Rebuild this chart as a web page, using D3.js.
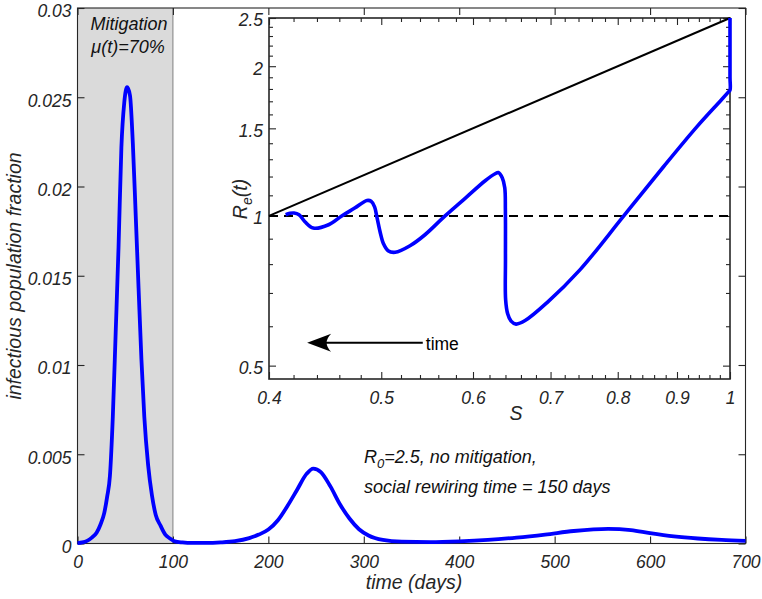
<!DOCTYPE html>
<html><head><meta charset="utf-8">
<script src="https://cdn.jsdelivr.net/npm/d3@7"></script>
<style>
body{margin:0;background:#fff;}
text{font-family:"Liberation Sans",Arial,Helvetica,sans-serif;}
</style></head>
<body><svg id="c" width="762" height="599"></svg>
<script>
// ---------- data ----------
const days = [0,5,10,15,20,24,28,31,34,37,40,43,46,49,52,55,58,61,64,67,70,74,78,82,87,92,97,102,110,120,135,150,165,180,190,200,210,220,230,240,247,255,265,275,285,295,305,320,340,370,400,430,460,490,520,556,580,600,625,650,675,700];
const infected = [0.00002,0.00006,0.00015,0.00033,0.0006,0.00105,0.0017,0.0026,0.0038,0.0071,0.0118,0.0166,0.0222,0.0247,0.02556,0.0251,0.0224,0.0184,0.0143,0.0103,0.0071,0.0044,0.0027,0.0016,0.0010,0.0005,0.00028,0.00012,0.00006,0.00003,0.00003,0.00006,0.00013,0.0003,0.0005,0.00078,0.0013,0.0021,0.003,0.0039,0.0042,0.004,0.0032,0.0022,0.0014,0.0008,0.00045,0.0002,0.0001,0.00008,0.00012,0.0002,0.00033,0.0005,0.0007,0.00082,0.00075,0.00058,0.0004,0.00028,0.0002,0.00015];
const mitigationEnd = 100;
const xTicks = [0,100,200,300,400,500,600,700];
const yTicks = [0,0.005,0.01,0.015,0.02,0.025,0.03];
const yTickLabels = ["0","0.005","0.01","0.015","0.02","0.025","0.03"];

// inset: S vs R_e(t), in time order
const insetS = [1.0,1.0,1.0,1.0,0.997,0.981,0.9365,0.8765,0.809,0.7424,0.6948,0.6655,0.6536,0.6472,0.6428,0.6402,0.6400,0.6399,0.6391,0.6359,0.631,0.627,0.6147,0.5907,0.5676,0.5454,0.5294,0.514,0.5068,0.5022,0.4988,0.4958,0.4934,0.490,0.486,0.4743,0.4622,0.4503,0.4368,0.4296,0.4246,0.4204,0.417,0.4135];
const insetR = [2.5,2.2,1.9,1.79,1.7756,1.703,1.512,1.257,0.998,0.78,0.6686,0.616,0.606,0.6145,0.636,0.679,0.8165,1.029,1.139,1.193,1.2227,1.2155,1.177,1.085,1.0,0.9165,0.871,0.845,0.851,0.879,0.9295,0.9918,1.043,1.07,1.074,1.037,1.0,0.96,0.9455,0.9735,1.0055,1.0135,1.012,1.0055];
const R0 = 2.5;
const herdS = [0.4,1.0];
const insetXTicks = [0.4,0.5,0.6,0.7,0.8,0.9,1];
const insetXLabels = ["0.4","0.5","0.6","0.7","0.8","0.9","1"];
const insetYTicks = [0.5,1,1.5,2,2.5];
const insetYLabels = ["0.5","1","1.5","2","2.5"];
const arrowS = [0.543,0.4315];
const arrowR = 0.556;

// ---------- main chart ----------
const svg = d3.select("#c");
const axCol = "#262626";
const x = d3.scaleLinear().domain([0,700]).range([77.5,745.5]);
const y = d3.scaleLinear().domain([0,0.03]).range([543.5,8]);

svg.append("rect").attr("x",x(0)).attr("y",y(0.03)).attr("width",x(mitigationEnd)-x(0)).attr("height",y(0)-y(0.03))
  .attr("fill","#dadada").attr("stroke","none");
svg.append("line").attr("x1",x(mitigationEnd)).attr("x2",x(mitigationEnd)).attr("y1",y(0.03)).attr("y2",y(0))
  .attr("stroke","#808080").attr("stroke-width",1);

const fontTick = "17.5px";
function styleAxis(g,size){
  g.select(".domain").remove();
  g.selectAll(".tick line").attr("stroke",axCol).attr("stroke-width",1.1);
  g.selectAll(".tick text").attr("fill",axCol).style("font-size",size||fontTick).style("font-style","italic");
}
svg.append("g").attr("transform",`translate(0,${y(0)})`)
  .call(d3.axisBottom(x).tickValues(xTicks).tickSize(-7).tickPadding(12).tickFormat(d3.format("d"))).call(g=>styleAxis(g));
svg.append("g").attr("transform",`translate(0,${y(0.03)})`)
  .call(d3.axisTop(x).tickValues(xTicks).tickSize(-7).tickFormat("")).call(g=>styleAxis(g));
svg.append("g").attr("transform",`translate(${x(0)},0)`)
  .call(d3.axisLeft(y).tickValues(yTicks).tickSize(-7).tickPadding(6).tickFormat((d,i)=>yTickLabels[i])).call(g=>styleAxis(g))
  .call(g=>g.selectAll(".tick text").attr("dy","0.5em"));
svg.append("g").attr("transform",`translate(${x(700)},0)`)
  .call(d3.axisRight(y).tickValues(yTicks).tickSize(-7).tickFormat("")).call(g=>styleAxis(g));
svg.append("rect").attr("x",x(0)).attr("y",y(0.03)).attr("width",x(700)-x(0)).attr("height",y(0)-y(0.03))
  .attr("fill","none").attr("stroke",axCol).attr("stroke-width",1.1);

const line = d3.line().x((d,i)=>x(days[i])).y(d=>y(d)).curve(d3.curveMonotoneX);
svg.append("path").datum(infected).attr("d",line).attr("fill","none").attr("stroke","#0000ff").attr("stroke-width",3.8).attr("stroke-linejoin","round");

// texts
svg.append("text").attr("x",129).attr("y",29.5).attr("text-anchor","middle").style("font-size","18px").style("font-style","italic").attr("fill","#111").text("Mitigation");
svg.append("text").attr("x",128).attr("y",52.5).attr("text-anchor","middle").style("font-size","18px").style("font-style","italic").attr("fill","#111").text("μ(t)=70%");
svg.append("text").attr("transform","translate(21,276) rotate(-90)").attr("text-anchor","middle").style("font-size","19.5px").style("font-style","italic").attr("fill",axCol).text("infectious population fraction");
svg.append("text").attr("x",414).attr("y",589).attr("text-anchor","middle").style("font-size","19.5px").style("font-style","italic").attr("fill",axCol).text("time (days)");
const annX = 364;
const ann = svg.append("text").attr("x",annX).attr("y",463).style("font-size","18px").style("font-style","italic").attr("fill","#111");
ann.append("tspan").text("R");
ann.append("tspan").attr("dy",5).style("font-size","13px").text("0");
ann.append("tspan").attr("dy",-5).text("=2.5, no mitigation,");
svg.append("text").attr("x",annX).attr("y",493).style("font-size","18px").style("font-style","italic").attr("fill","#111").text("social rewiring time = 150 days");

// ---------- inset ----------
const xs = d3.scaleLog().domain([0.4,1]).range([269,730]);
const ys = d3.scaleLog().domain([0.47,2.5]).range([379,18]);
const ins = svg.append("g");
ins.append("rect").attr("x",xs(0.4)).attr("y",ys(2.5)).attr("width",xs(1)-xs(0.4)).attr("height",ys(0.47)-ys(2.5)).attr("fill","#fff");

const xMinor = d3.range(0.42,0.999,0.02).filter(v=>Math.abs(v*10-Math.round(v*10))>1e-6);
const yMinor = d3.range(0.6,2.45,0.1).filter(v=>Math.abs(v*2-Math.round(v*2))>1e-6);
ins.append("g").attr("transform",`translate(0,${ys(0.47)})`)
  .call(d3.axisBottom(xs).tickValues(insetXTicks).tickSize(-7).tickPadding(13).tickFormat((d,i)=>insetXLabels[i])).call(g=>styleAxis(g));
ins.append("g").attr("transform",`translate(0,${ys(0.47)})`)
  .call(d3.axisBottom(xs).tickValues(xMinor).tickSize(-4).tickFormat("")).call(g=>styleAxis(g));
ins.append("g").attr("transform",`translate(0,${ys(2.5)})`)
  .call(d3.axisTop(xs).tickValues(insetXTicks).tickSize(-7).tickFormat("")).call(g=>styleAxis(g));
ins.append("g").attr("transform",`translate(0,${ys(2.5)})`)
  .call(d3.axisTop(xs).tickValues(xMinor).tickSize(-4).tickFormat("")).call(g=>styleAxis(g));
ins.append("g").attr("transform",`translate(${xs(0.4)},0)`)
  .call(d3.axisLeft(ys).tickValues(insetYTicks).tickSize(-7).tickPadding(6).tickFormat((d,i)=>insetYLabels[i])).call(g=>styleAxis(g))
  .call(g=>g.selectAll(".tick text").attr("dy","0.45em"));
ins.append("g").attr("transform",`translate(${xs(0.4)},0)`)
  .call(d3.axisLeft(ys).tickValues(yMinor).tickSize(-4).tickFormat("")).call(g=>styleAxis(g));
ins.append("g").attr("transform",`translate(${xs(1)},0)`)
  .call(d3.axisRight(ys).tickValues(insetYTicks).tickSize(-7).tickFormat("")).call(g=>styleAxis(g));
ins.append("g").attr("transform",`translate(${xs(1)},0)`)
  .call(d3.axisRight(ys).tickValues(yMinor).tickSize(-4).tickFormat("")).call(g=>styleAxis(g));
ins.append("rect").attr("x",xs(0.4)).attr("y",ys(2.5)).attr("width",xs(1)-xs(0.4)).attr("height",ys(0.47)-ys(2.5))
  .attr("fill","none").attr("stroke",axCol).attr("stroke-width",1.6);

ins.append("line").attr("x1",xs(herdS[0])).attr("y1",ys(R0*herdS[0])).attr("x2",xs(herdS[1])).attr("y2",ys(R0*herdS[1]))
  .attr("stroke","#000").attr("stroke-width",2);
ins.append("line").attr("x1",xs(0.4)).attr("x2",xs(1)).attr("y1",ys(1)).attr("y2",ys(1))
  .attr("stroke","#000").attr("stroke-width",2).attr("stroke-dasharray","9,6");
const iline = d3.line().x((d,i)=>xs(insetS[i])).y(d=>ys(d)).curve(d3.curveCatmullRom.alpha(0.5));
ins.append("path").datum(insetR).attr("d",iline).attr("fill","none").attr("stroke","#0000ff").attr("stroke-width",3.6).attr("stroke-linejoin","round");

// arrow
const ay = ys(arrowR);
ins.append("line").attr("x1",xs(arrowS[0])).attr("x2",xs(arrowS[1])+12).attr("y1",ay).attr("y2",ay).attr("stroke","#000").attr("stroke-width",2);
const tx = xs(arrowS[1]);
ins.append("path").attr("d",`M${tx},${ay} L${tx+24},${ay-9} Q${tx+15},${ay} ${tx+24},${ay+9} Z`).attr("fill","#000");
ins.append("text").attr("x",xs(arrowS[0])+3).attr("y",ay+7).style("font-size","17.5px").attr("fill","#000").text("time");

// inset labels
const rl = ins.append("text").attr("transform","translate(247,199) rotate(-90)").attr("text-anchor","middle").style("font-size","19.5px").style("font-style","italic").attr("fill",axCol);
rl.append("tspan").text("R");
rl.append("tspan").attr("dy",5).style("font-size","14px").text("e");
rl.append("tspan").attr("dy",-5).text("(t)");
ins.append("text").attr("x",516).attr("y",420).attr("text-anchor","middle").style("font-size","19.5px").style("font-style","italic").attr("fill",axCol).text("S");
</script></body></html>
